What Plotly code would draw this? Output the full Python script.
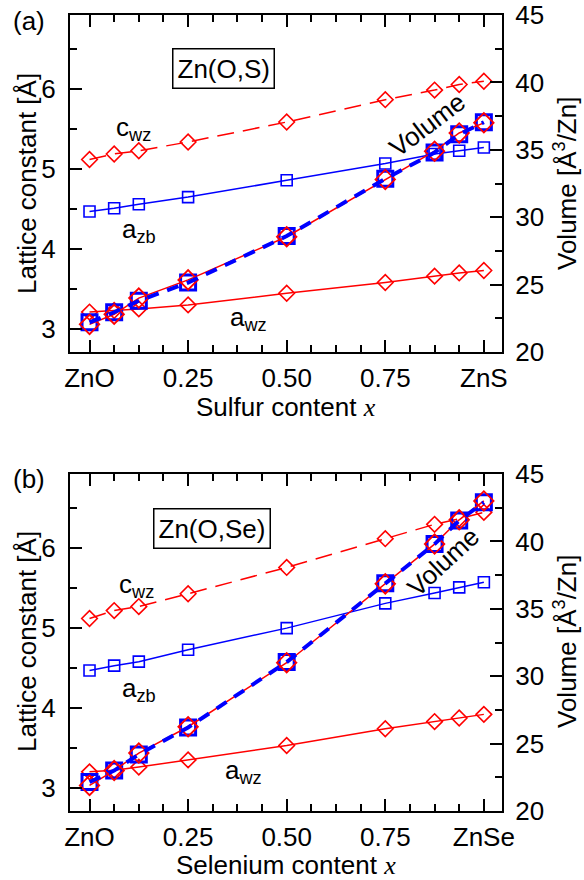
import plotly.graph_objects as go

# Composition grid (x = 0 ... 1)
x_content = [0, 0.0625, 0.125, 0.25, 0.5, 0.75, 0.875, 0.9375, 1.0]
x_tickvals = [0, 0.25, 0.5, 0.75, 1.0]
x_ticktext_s = ["ZnO", "0.25", "0.50", "0.75", "ZnS"]
x_ticktext_se = ["ZnO", "0.25", "0.50", "0.75", "ZnSe"]

# Zn(O,S): lattice constants [Å] and volume [Å^3/Zn]
s_c_wz = [5.12, 5.19, 5.23, 5.34, 5.59, 5.87, 5.99, 6.06, 6.10]
s_a_zb = [4.47, 4.51, 4.56, 4.65, 4.86, 5.07, 5.19, 5.23, 5.27]
s_a_wz = [3.21, 3.23, 3.25, 3.30, 3.445, 3.58, 3.66, 3.70, 3.73]
s_vol_wz = [22.05, 22.8, 24.0, 25.35, 28.55, 32.8, 34.9, 36.25, 37.0]
s_vol_zb = [22.2, 22.95, 23.8, 25.15, 28.6, 32.85, 34.8, 36.15, 37.05]

# Zn(O,Se): lattice constants [Å] and volume [Å^3/Zn]
e_c_wz = [5.12, 5.22, 5.27, 5.43, 5.76, 6.12, 6.30, 6.37, 6.45]
e_a_zb = [4.47, 4.53, 4.58, 4.73, 5.00, 5.31, 5.44, 5.51, 5.575]
e_a_wz = [3.20, 3.22, 3.26, 3.35, 3.53, 3.74, 3.83, 3.875, 3.92]
e_vol_wz = [21.9, 23.0, 24.3, 26.25, 31.0, 36.85, 39.8, 41.6, 43.0]
e_vol_zb = [22.15, 23.0, 24.2, 26.2, 31.05, 36.9, 39.8, 41.55, 42.9]

RED = "#ff0000"
BLUE = "#0000ff"
FONT = "Liberation Sans, Arial, Helvetica, sans-serif"
FS = 26

W, H = 584, 880
ML, MR, MT, MB = 70, 82, 15, 69
PW, PH = W - ML - MR, H - MT - MB


def px_x(px):
    return (px - ML) / PW


def px_y(py):
    return (H - MB - py) / PH


top_dom = [px_y(352), 1.0]
bot_dom = [0.0, px_y(474)]

fig = go.Figure()


def add_panel(xa, ya_l, ya_r, c_wz, a_zb, a_wz, vol_wz, vol_zb):
    fig.add_trace(go.Scatter(
        x=x_content, y=a_zb, xaxis=xa, yaxis=ya_l, mode="lines+markers",
        line=dict(color=BLUE, width=1.5),
        marker=dict(symbol="square-open", size=11, color=BLUE, line=dict(width=1.6, color=BLUE)),
        showlegend=False))
    fig.add_trace(go.Scatter(
        x=x_content, y=c_wz, xaxis=xa, yaxis=ya_l, mode="lines+markers",
        line=dict(color=RED, width=1.5, dash="17px,9px"),
        marker=dict(symbol="diamond-open", size=12, color=RED, line=dict(width=1.6, color=RED)),
        showlegend=False))
    fig.add_trace(go.Scatter(
        x=x_content, y=a_wz, xaxis=xa, yaxis=ya_l, mode="lines+markers",
        line=dict(color=RED, width=1.5),
        marker=dict(symbol="diamond-open", size=12, color=RED, line=dict(width=1.6, color=RED)),
        showlegend=False))
    # volume: zinc-blende squares, wurtzite diamonds, zinc-blende dashed curve on top
    fig.add_trace(go.Scatter(
        x=x_content, y=vol_zb, xaxis=xa, yaxis=ya_r, mode="markers",
        marker=dict(symbol="square-open", size=15, color=BLUE, line=dict(width=3, color=BLUE)),
        showlegend=False))
    fig.add_trace(go.Scatter(
        x=x_content, y=vol_wz, xaxis=xa, yaxis=ya_r, mode="lines+markers",
        line=dict(color=RED, width=1.5),
        marker=dict(symbol="diamond-open", size=15, color=RED, line=dict(width=1.8, color=RED)),
        showlegend=False))
    fig.add_trace(go.Scatter(
        x=x_content, y=vol_zb, xaxis=xa, yaxis=ya_r, mode="lines",
        line=dict(color=BLUE, width=4, dash="12px,9px"),
        showlegend=False))


add_panel("x", "y", "y2", s_c_wz, s_a_zb, s_a_wz, s_vol_wz, s_vol_zb)
add_panel("x2", "y3", "y4", e_c_wz, e_a_zb, e_a_wz, e_vol_wz, e_vol_zb)

x_minor = [i / 16 for i in range(0, 17) if i % 4 != 0]
tickfont = dict(family=FONT, size=FS, color="black")
common = dict(showline=True, linewidth=2, linecolor="black", ticks="inside",
              tickwidth=2, tickcolor="black", showgrid=False, zeroline=False,
              tickfont=tickfont, automargin=False)


def xaxis(anchor, ticktext):
    return dict(common, domain=[0, 1], anchor=anchor, range=[-0.0495, 1.046],
                tickmode="array", tickvals=x_tickvals, ticktext=ticktext,
                ticklen=12, mirror="ticks", ticklabelstandoff=2,
                minor=dict(tickmode="array", tickvals=x_minor, ticks="inside",
                           ticklen=7, tickwidth=2, tickcolor="black"))


def yleft(anchor, dom):
    return dict(common, domain=dom, anchor=anchor, range=[2.71, 6.93],
                tickmode="array", tickvals=[3, 4, 5, 6], ticklen=12,
                ticklabelstandoff=7,
                minor=dict(tickmode="array", tickvals=[3.5, 4.5, 5.5, 6.5],
                           ticks="inside", ticklen=7, tickwidth=2, tickcolor="black"))


def yright(anchor, over):
    return dict(common, overlaying=over, side="right", anchor=anchor, range=[20, 45],
                tickmode="array", tickvals=[20, 25, 30, 35, 40, 45], ticklen=12,
                ticklabelstandoff=6,
                minor=dict(tickmode="array", tickvals=[22.5, 27.5, 32.5, 37.5, 42.5],
                           ticks="inside", ticklen=7, tickwidth=2, tickcolor="black"))


ann = []


def text(px, py, s, angle=0, box=False, xanchor="center"):
    a = dict(xref="paper", yref="paper", x=px_x(px), y=px_y(py), text=s,
             showarrow=False, textangle=angle, xanchor=xanchor, yanchor="middle",
             font=dict(family=FONT, size=FS, color="black"))
    if box:
        a.update(bordercolor="black", borderwidth=1.5, borderpad=4, bgcolor="white")
    ann.append(a)


XI = "<span style='font-family:Liberation Serif, Times New Roman, serif'><i>x</i></span>"

# panel (a)
text(29, 21, "(a)")
text(223, 68, "Zn(O,S)", box=True)
text(133, 128, "c<sub>wz</sub>")
text(139, 231, "a<sub>zb</sub>")
text(248, 318, "a<sub>wz</sub>")
text(427, 125, "Volume", angle=-37)
text(27, 184, "Lattice constant [Å]", angle=-90)
text(565, 184, "Volume [Å<sup>3</sup>/Zn]", angle=-90)
text(286, 407, "Sulfur content " + XI)

# panel (b)
text(29, 479, "(b)")
text(212, 528, "Zn(O,Se)", box=True)
text(136, 585, "c<sub>wz</sub>")
text(139, 689, "a<sub>zb</sub>")
text(243, 771, "a<sub>wz</sub>")
text(443, 562, "Volume", angle=-43)
text(27, 642, "Lattice constant [Å]", angle=-90)
text(565, 642, "Volume [Å<sup>3</sup>/Zn]", angle=-90)
text(286, 865, "Selenium content " + XI)

fig.update_layout(
    width=W, height=H,
    margin=dict(l=ML, r=MR, t=MT, b=MB, autoexpand=False),
    paper_bgcolor="white", plot_bgcolor="white",
    showlegend=False,
    xaxis=xaxis("y", x_ticktext_s),
    yaxis=yleft("x", top_dom),
    yaxis2=yright("x", "y"),
    xaxis2=xaxis("y3", x_ticktext_se),
    yaxis3=yleft("x2", bot_dom),
    yaxis4=yright("x2", "y3"),
    annotations=ann,
    font=dict(family=FONT, size=FS, color="black"),
)

fig.write_html("out.html")
